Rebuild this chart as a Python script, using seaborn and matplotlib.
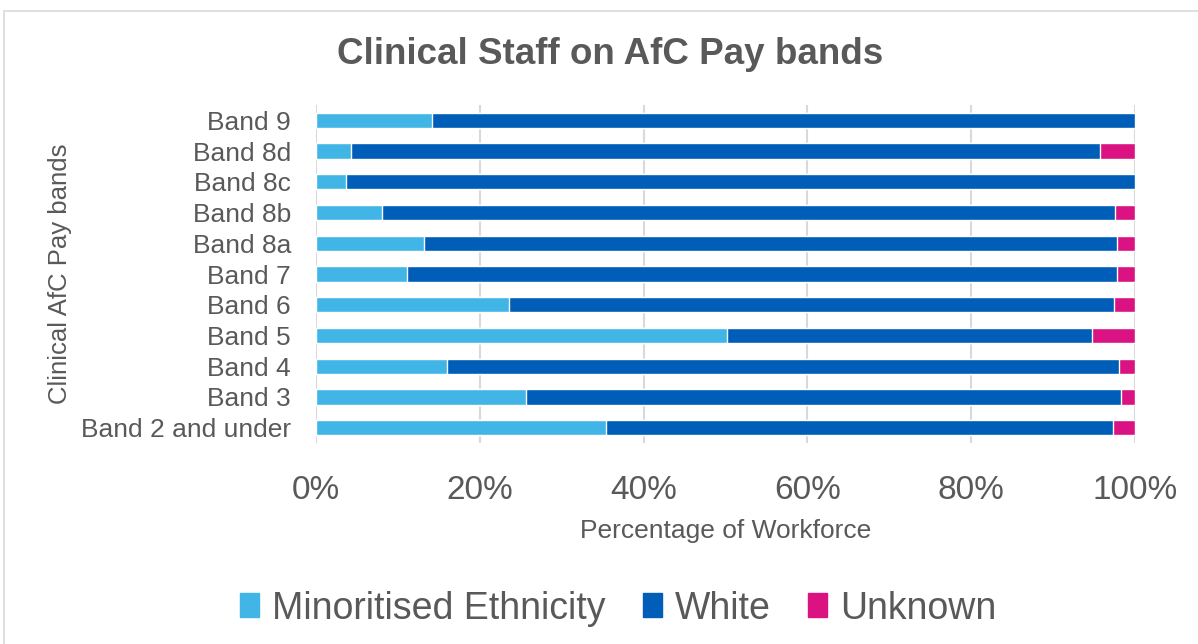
import pandas as pd
import numpy as np
import matplotlib.pyplot as plt
import seaborn as sns
from matplotlib.patches import Rectangle
from matplotlib.ticker import PercentFormatter

# dados (percentagem da forca de trabalho)
bandas = ["Band 9", "Band 8d", "Band 8c", "Band 8b", "Band 8a", "Band 7",
          "Band 6", "Band 5", "Band 4", "Band 3", "Band 2 and under"]
minoritised = [14.2, 4.3, 3.7, 8.1, 13.2, 11.1, 23.6, 50.2, 16.0, 25.6, 35.4]
unknown = [0.0, 4.3, 0.0, 2.4, 2.2, 2.2, 2.6, 5.2, 2.0, 1.7, 2.7]
white = [100 - m - u for m, u in zip(minoritised, unknown)]

cor_min = "#41B6E6"
cor_white = "#005EB8"
cor_unk = "#DA1282"
cinza = "#595959"

df = pd.DataFrame({"Banda": bandas, "Minoritised Ethnicity": minoritised,
                   "White": white, "Unknown": unknown})
df["ate_white"] = df["Minoritised Ethnicity"] + df["White"]
df["total"] = df["ate_white"] + df["Unknown"]

sns.set_style("white")
plt.rcParams["font.family"] = ["Liberation Sans", "DejaVu Sans"]

fig = plt.figure(figsize=(11.98, 6.44), dpi=100)
ax = fig.add_axes([0.2638, 0.312, 0.6836, 0.525])

# barras empilhadas: desenha o acumulado de tras pra frente
sns.barplot(data=df, y="Banda", x="total", color=cor_unk, width=0.5,
            saturation=1, ax=ax, orient="h")
sns.barplot(data=df, y="Banda", x="ate_white", color=cor_white, width=0.5,
            saturation=1, ax=ax, orient="h")
sns.barplot(data=df, y="Banda", x="Minoritised Ethnicity", color=cor_min,
            width=0.5, saturation=1, ax=ax, orient="h")

ax.set_xlim(0, 100)
ax.set_xticks(np.arange(0, 101, 20))
ax.xaxis.set_major_formatter(PercentFormatter(decimals=0))
ax.grid(axis="x", color="#D9D9D9", linewidth=1.5)
ax.set_axisbelow(True)
for s in ax.spines.values():
    s.set_visible(False)
ax.tick_params(axis="x", labelsize=24, colors=cinza, length=0, pad=23)
ax.tick_params(axis="y", labelsize=19, colors=cinza, length=0, pad=18)
ax.set_xlabel("Percentage of Workforce", fontsize=19, color=cinza, labelpad=9)
ax.set_ylabel("Clinical AfC Pay bands", fontsize=18.5, color=cinza, labelpad=6.5)

fig.text(0.509, 0.915, "Clinical Staff on AfC Pay bands", ha="center", va="center",
         fontsize=26.5, fontweight="bold", color=cinza)

handles = [plt.Rectangle((0, 0), 1, 1, color=c) for c in [cor_min, cor_white, cor_unk]]
fig.legend(handles, ["Minoritised Ethnicity", "White", "Unknown"], loc="center",
           bbox_to_anchor=(0.516, 0.055), ncol=3, frameon=False, fontsize=27,
           labelcolor=cinza, handlelength=0.5, handleheight=0.6,
           handletextpad=0.35, columnspacing=1.0)

# borda clara em volta do grafico
fig.patches.append(Rectangle((0.003, -0.01), 1.2, 0.993, transform=fig.transFigure,
                             fill=False, edgecolor="#D9D9D9", linewidth=1.2))

fig.savefig("out.png", dpi=100)
